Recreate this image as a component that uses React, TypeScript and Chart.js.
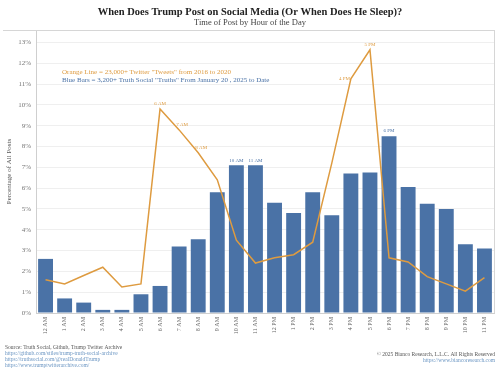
import React, { useEffect, useRef } from "react";
import { Chart, registerables } from "chart.js";

Chart.register(...registerables);

const hours = [
  "12 AM", "1 AM", "2 AM", "3 AM", "4 AM", "5 AM", "6 AM", "7 AM", "8 AM", "9 AM", "10 AM", "11 AM",
  "12 PM", "1 PM", "2 PM", "3 PM", "4 PM", "5 PM", "6 PM", "7 PM", "8 PM", "9 PM", "10 PM", "11 PM",
];

// Blue bars: Truth Social "Truths" (% of all posts)
const truthsPct = [
  2.6, 0.7, 0.5, 0.15, 0.15, 0.9, 1.3, 3.2, 3.55, 5.8, 7.1, 7.1,
  5.3, 4.8, 5.8, 4.7, 6.7, 6.75, 8.5, 6.05, 5.25, 5.0, 3.3, 3.1,
];

// Orange line: Twitter "Tweets" (% of all posts)
const tweetsPct = [
  1.6, 1.4, 1.8, 2.2, 1.25, 1.4, 9.8, 8.8, 7.7, 6.4, 3.5, 2.4,
  2.65, 2.8, 3.4, 7.2, 11.25, 12.65, 2.65, 2.45, 1.75, 1.4, 1.05, 1.7,
];

const yTickValues = [0, 1, 2, 3, 4, 5, 6, 7, 8, 9, 10, 11, 12, 13];
const lineLabelIdx = [6, 7, 8, 16, 17];
const barLabelIdx = [10, 11, 18];

const titleText = "When Does Trump Post on Social Media (Or When Does He Sleep)?";
const subtitleText = "Time of Post by Hour of the Day";
const legendOrange = 'Orange Line = 23,000+ Twitter "Tweets" from 2016 to 2020';
const legendBlue = 'Blue Bars = 3,200+ Truth Social "Truths" From January 20 , 2025 to Date';
const sourceLines = [
  "Source: Truth Social, Github, Trump Twitter Archive",
  "https://github.com/stiles/trump-truth-social-archive",
  "https://truthsocial.com/@realDonaldTrump",
  "https://www.trumptwitterarchive.com/",
];
const copyrightLines = [
  "\u00A9 2025 Bianco Research, L.L.C. All Rights Reserved",
  "https://www.biancoresearch.com",
];

const BLUE = "#4a72a6";
const ORANGE = "#de9b40";
const SERIF = "'Liberation Serif', 'DejaVu Serif', serif";

const decorPlugin = {
  id: "decor",
  afterDraw(chart: any) {
    const ctx = chart.ctx;
    const area = chart.chartArea;
    ctx.save();
    // frame top & right
    ctx.strokeStyle = "#d6d6d6";
    ctx.lineWidth = 1;
    ctx.beginPath();
    ctx.moveTo(3, Math.round(area.top) + 0.5);
    ctx.lineTo(area.right, Math.round(area.top) + 0.5);
    ctx.moveTo(Math.round(area.right) + 0.5, area.top);
    ctx.lineTo(Math.round(area.right) + 0.5, area.bottom);
    ctx.stroke();

    // titles
    ctx.textAlign = "center";
    ctx.textBaseline = "middle";
    ctx.fillStyle = "#222";
    ctx.font = `bold 10.5px ${SERIF}`;
    ctx.fillText(titleText, 250, 12);
    ctx.fillStyle = "#444";
    ctx.font = `8.5px ${SERIF}`;
    ctx.fillText(subtitleText, 250, 23);

    // legend texts
    ctx.textAlign = "left";
    ctx.font = `7px ${SERIF}`;
    ctx.fillStyle = ORANGE;
    ctx.fillText(legendOrange, 62, 72);
    ctx.fillStyle = BLUE;
    ctx.fillText(legendBlue, 62, 80);

    // point labels
    ctx.font = `5px ${SERIF}`;
    const lineMeta = chart.getDatasetMeta(1);
    ctx.fillStyle = ORANGE;
    lineLabelIdx.forEach((i) => {
      const p = lineMeta.data[i];
      if (!p) return;
      if (i === 16) {
        ctx.textAlign = "right";
        ctx.fillText(hours[i], p.x - 1, p.y);
      } else {
        ctx.textAlign = "center";
        ctx.fillText(hours[i], p.x + (i === 7 || i === 8 ? 3 : 0), p.y - 5);
      }
    });
    const barMeta = chart.getDatasetMeta(0);
    ctx.fillStyle = BLUE;
    ctx.textAlign = "center";
    barLabelIdx.forEach((i) => {
      const b = barMeta.data[i];
      if (!b) return;
      ctx.fillText(hours[i], b.x, b.y - 5);
    });

    // footer
    ctx.font = `5.5px ${SERIF}`;
    ctx.textAlign = "left";
    sourceLines.forEach((t, k) => {
      ctx.fillStyle = k === 0 ? "#555" : "#6a95c2";
      ctx.fillText(t, 5, 348 + k * 6);
    });
    ctx.textAlign = "right";
    copyrightLines.forEach((t, k) => {
      ctx.fillStyle = k === 0 ? "#555" : "#6a95c2";
      ctx.fillText(t, 495, 355 + k * 6);
    });
    ctx.restore();
  },
};

export default function App() {
  const ref = useRef<HTMLCanvasElement | null>(null);
  useEffect(() => {
    if (!ref.current) return;
    const chart = new Chart(ref.current, {
      type: "bar",
      data: {
        labels: hours,
        datasets: [
          {
            type: "bar",
            label: "Truth Social",
            data: truthsPct,
            backgroundColor: BLUE,
            categoryPercentage: 1,
            barPercentage: 0.78,
            order: 2,
          },
          {
            type: "line",
            label: "Twitter",
            data: tweetsPct,
            borderColor: ORANGE,
            borderWidth: 1.5,
            pointRadius: 0,
            tension: 0,
            fill: false,
            order: 1,
          } as any,
        ],
      },
      options: {
        animation: false,
        responsive: true,
        maintainAspectRatio: false,
        layout: { padding: { top: 30, right: 6, left: 0, bottom: 0 } },
        plugins: {
          legend: { display: false },
          tooltip: { enabled: false },
          title: { display: false },
        },
        scales: {
          x: {
            grid: { display: false, drawTicks: false },
            border: { color: "#cfcfcf" },
            ticks: {
              font: { family: SERIF, size: 6 },
              color: "#666",
              minRotation: 90,
              maxRotation: 90,
              padding: 4,
              autoSkip: false,
            },
            afterFit: (s: any) => {
              s.height = 62;
            },
          },
          y: {
            min: 0,
            max: 13.6,
            ticks: {
              stepSize: 1,
              font: { family: SERIF, size: 7 },
              color: "#777",
              padding: 5,
              callback: (v: any) => `${v}%`,
            },
            afterBuildTicks: (s: any) => {
              s.ticks = yTickValues.map((v) => ({ value: v }));
            },
            grid: { color: "#efefef", drawTicks: false },
            border: { color: "#cfcfcf" },
            title: {
              display: true,
              text: "Percentage of All Posts",
              font: { family: SERIF, size: 7 },
              color: "#555",
              padding: { top: 5, bottom: 0 },
            },
            afterFit: (s: any) => {
              s.width = 36;
            },
          },
        },
      },
      plugins: [decorPlugin],
    });
    return () => chart.destroy();
  }, []);
  return (
    <div style={{ position: "absolute", left: 0, top: 0, width: 500, height: 375, background: "#fff" }}>
      <canvas ref={ref} />
    </div>
  );
}
